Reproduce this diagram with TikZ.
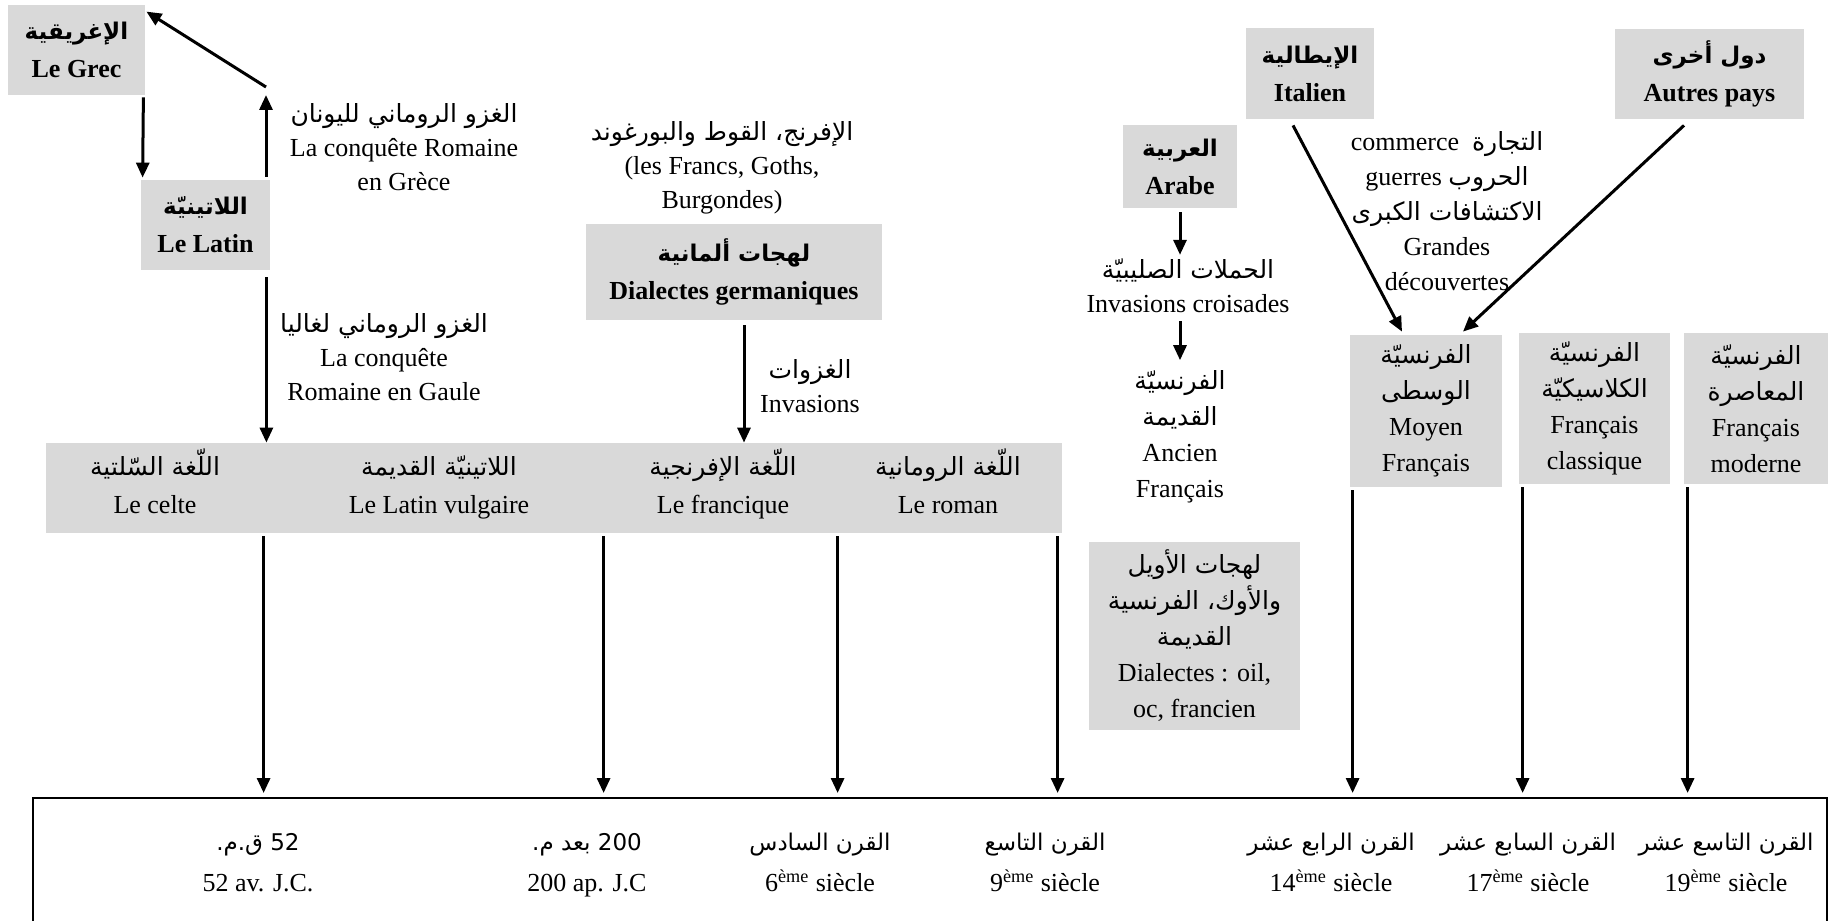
\documentclass[tikz,border=0pt]{standalone}
\usepackage{fontspec}
\setmainfont{Liberation Serif}
\newfontfamily\arfont[Script=Arabic]{DejaVu Sans}
\TeXXeTstate=1
\usetikzlibrary{arrows.meta}
\definecolor{boxgray}{HTML}{D9D9D9}
\newcommand\artxt[1]{{\arfont\fontsize{12.5}{17}\selectfont\beginR #1\endR}}
\newcommand\artxs[1]{{\arfont\fontsize{11.5}{16}\selectfont\beginR #1\endR}}
\newcommand\arbold[1]{{\arfont\bfseries\fontsize{11.5}{16}\selectfont\beginR #1\endR}}
\newcommand\lst{\rule[-4.5pt]{0pt}{15.5pt}}
\begin{document}
\begin{tikzpicture}[x=0.5pt,y=-0.5pt,
  gbox/.style={fill=boxgray,draw=none,align=center,inner sep=0pt,font=\bfseries\fontsize{13}{19}\selectfont},
  lbox/.style={fill=boxgray,draw=none,align=center,inner sep=0pt,font=\fontsize{13}{18}\selectfont},
  txt/.style={align=center,inner sep=0pt,font=\fontsize{13}{17}\selectfont},
  lab/.style={align=center,inner sep=0pt,font=\fontsize{13}{19}\selectfont},
  arr/.style={line width=1.5pt,-{Triangle[length=7.5pt,width=6.5pt]}}]
\useasboundingbox (0,0) rectangle (1829,920);
% boxes
\node[gbox,minimum width=68.5pt,minimum height=45pt] (grec) at (76.5,50) {\arbold{الإغريقية}\\Le Grec};
\node[gbox,minimum width=64.5pt,minimum height=45pt] (latin) at (205.5,225) {\arbold{اللاتينيّة}\\Le Latin};
\node[gbox,minimum width=148pt,minimum height=48pt] (germ) at (734,272) {\arbold{لهجات ألمانية}\\Dialectes germaniques};
\node[gbox,minimum width=57pt,minimum height=41.5pt] (arabe) at (1180,166.5) {\arbold{العربية}\\Arabe};
\node[gbox,minimum width=64pt,minimum height=45.5pt] (ital) at (1310,73.5) {\arbold{الإيطالية}\\Italien};
\node[gbox,minimum width=94.5pt,minimum height=45pt] (autres) at (1709.5,74) {\arbold{دول أخرى}\\Autres pays};
\node[fill=boxgray,inner sep=0pt,minimum width=508pt,minimum height=45pt] (band) at (554,488) {};
\node[lbox,minimum width=105.5pt,minimum height=94pt] (dial) at (1194.5,636) {\artxt{لهجات الأويل}\\\artxt{والأوك، الفرنسية}\\\artxt{القديمة}\\Dialectes : oil,\\oc, francien};
\node[lbox,minimum width=76pt,minimum height=76pt] (moyen) at (1426,411) {\artxt{الفرنسيّة}\\\artxt{الوسطى}\\Moyen\\Français};
\node[lbox,minimum width=75.5pt,minimum height=75.5pt] (cls) at (1594.5,408.5) {\artxt{الفرنسيّة}\\\artxt{الكلاسيكيّة}\\Français\\classique};
\node[lbox,minimum width=72pt,minimum height=75.5pt] (mod) at (1756,408.5) {\artxt{الفرنسيّة}\\\artxt{المعاصرة}\\Français\\moderne};
\node[draw=black,line width=1pt,inner sep=0pt,minimum width=897pt,minimum height=71pt] (tl) at (930,869) {};
% band labels
\node[lab] (celte) at (155,488) {\lst\smash{\artxt{اللّغة السّلتية}}\\\lst Le celte};
\node[lab] (vulg) at (439,488) {\lst\smash{\artxt{اللاتينيّة القديمة}}\\\lst Le Latin vulgaire};
\node[lab] (franc) at (723,488) {\lst\smash{\artxt{اللّغة الإفرنجية}}\\\lst Le francique};
\node[lab] (roman) at (948,488) {\lst\smash{\artxt{اللّغة الرومانية}}\\\lst Le roman};
% free labels
\node[txt] (cgrece) at (404,147) {\artxt{الغزو الروماني لليونان}\\La conquête Romaine\\en Grèce};
\node[txt] (cgaule) at (384,357) {\artxt{الغزو الروماني لغاليا}\\La conquête\\Romaine en Gaule};
\node[txt] (franks) at (722,168) {\artxt{الإفرنج، القوط والبورغوند}\\(les Francs, Goths,\\Burgondes)};
\node[txt] (inv) at (810,386) {\artxt{الغزوات}\\Invasions};
\node[txt] (cro) at (1188,286) {\artxt{الحملات الصليبيّة}\\Invasions croisades};
\node[txt,font=\fontsize{13}{18}\selectfont] (anc) at (1180,437) {\artxt{الفرنسيّة}\\\artxt{القديمة}\\Ancien\\Français};
\node[txt,font=\fontsize{13}{17.5}\selectfont] (mid) at (1447,211) {commerce\enspace\artxt{التجارة}\\guerres \artxt{الحروب}\\\artxt{الاكتشافات الكبرى}\\Grandes\\découvertes};
% timeline labels
\node[lab,font=\fontsize{13}{20.5}\selectfont] (d1) at (258,864) {\lst\smash{\artxs{\beginL 52\endL{} ق.م.}}\\\lst 52 av. J.C.};
\node[lab,font=\fontsize{13}{20.5}\selectfont] (d2) at (587,864) {\lst\smash{\artxs{\beginL 200\endL{} بعد م.}}\\\lst 200 ap. J.C};
\node[lab,font=\fontsize{13}{20.5}\selectfont] (d3) at (820,864) {\lst\smash{\artxs{القرن السادس}}\\\lst 6\textsuperscript{ème} siècle};
\node[lab,font=\fontsize{13}{20.5}\selectfont] (d4) at (1045,864) {\lst\smash{\artxs{القرن التاسع}}\\\lst 9\textsuperscript{ème} siècle};
\node[lab,font=\fontsize{13}{20.5}\selectfont] (d5) at (1331,864) {\lst\smash{\artxs{القرن الرابع عشر}}\\\lst 14\textsuperscript{ème} siècle};
\node[lab,font=\fontsize{13}{20.5}\selectfont] (d6) at (1528,864) {\lst\smash{\artxs{القرن السابع عشر}}\\\lst 17\textsuperscript{ème} siècle};
\node[lab,font=\fontsize{13}{20.5}\selectfont] (d7) at (1726,864) {\lst\smash{\artxs{القرن التاسع عشر}}\\\lst 19\textsuperscript{ème} siècle};
% connectors
\coordinate (g1) at (266,95);
\coordinate (g2) at (266,87);
\draw[arr] ([shift={(60.5,-3)}]latin.north) -- (g1);
\draw[arr] (g2) -- ([shift={(1,7)}]grec.north east);
\draw[arr] ([shift={(-2,2)}]grec.south east) -- ([shift={(2,-2)}]latin.north west);
\coordinate (lt) at ([shift={(-4,7)}]latin.south east);
\draw[arr] (lt) -- (lt |- band.north);
\coordinate (gt) at ([shift={(10,5)}]germ.south);
\draw[arr] (gt) -- (gt |- band.north);
\foreach \dx/\nm in {218/a,558/b,792/c,1012/d}{
  \coordinate (s\nm) at ([shift={(\dx,3)}]band.south west);
  \draw[arr,shorten >=2pt] (s\nm) -- (s\nm |- tl.north);
}
\coordinate (at) at ([shift={(0,4)}]arabe.south);
\draw[arr] (at) -- ([shift={(0,-4)}]cro.north -| at);
\draw[arr] ([shift={(0,8)}]cro.south -| at) -- ([shift={(0,-10)}]anc.north -| at);
\draw[arr] ([shift={(-17,6)}]ital.south) -- ([shift={(-24,-3)}]moyen.north);
\draw[arr] ([shift={(-25.5,6)}]autres.south) -- ([shift={(37,-3)}]moyen.north);
\coordinate (m1) at ([shift={(3,3)}]moyen.south west);
\coordinate (m2) at ([shift={(4,3)}]cls.south west);
\coordinate (m3) at ([shift={(4,3)}]mod.south west);
\draw[arr,shorten >=2pt] (m1) -- (m1 |- tl.north);
\draw[arr,shorten >=2pt] (m2) -- (m2 |- tl.north);
\draw[arr,shorten >=2pt] (m3) -- (m3 |- tl.north);
\end{tikzpicture}
\end{document}
